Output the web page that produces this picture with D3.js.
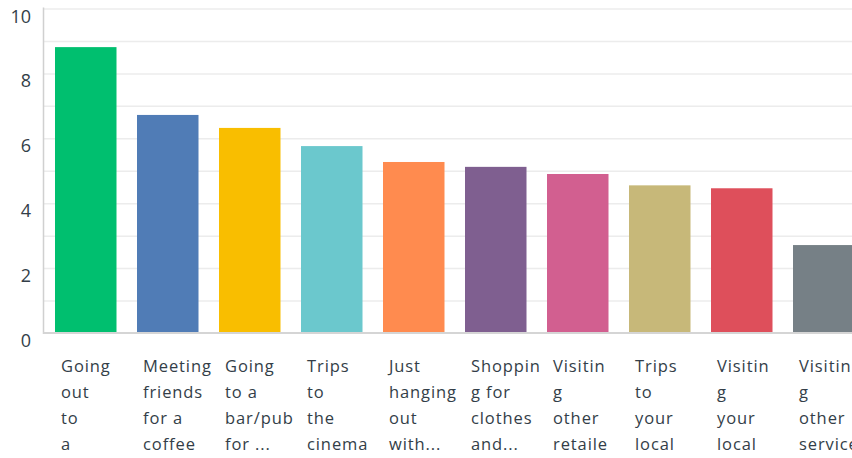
<!DOCTYPE html>
<html lang="en">
<head>
    <meta charset="UTF-8">
    <title>Activities</title>
    <script src="https://d3js.org/d3.v7.min.js"></script>
    <style>
        body {
            margin: 0;
            padding: 0;
            background-color: #ffffff;
            overflow: hidden;
        }
        svg {
            display: block;
            font-family: 'Open Sans', sans-serif;
        }
        .grid line {
            stroke: #ececec;
            stroke-width: 1.5;
        }
        .y-label {
            font-size: 18px;
            fill: #333e48;
        }
        .x-label {
            font-size: 16.5px;
            fill: #333e48;
            letter-spacing: 0.9px;
        }
    </style>
</head>
<body>
    <svg width="852" height="458"></svg>

    <script>
        const categories = [
            "Going out to a",
            "Meeting friends for a coffee",
            "Going to a bar/pub for ...",
            "Trips to the cinema",
            "Just hanging out with...",
            "Shopping for clothes and...",
            "Visiting other retailers",
            "Trips to your local",
            "Visiting your local",
            "Visiting other services"
        ];

        // wrapped tick labels as shown under each bar
        const tickLabels = [
            ["Going", "out", "to", "a"],
            ["Meeting", "friends", "for a", "coffee"],
            ["Going", "to a", "bar/pub", "for ..."],
            ["Trips", "to", "the", "cinema"],
            ["Just", "hanging", "out", "with..."],
            ["Shoppin", "g for", "clothes", "and..."],
            ["Visitin", "g", "other", "retaile"],
            ["Trips", "to", "your", "local"],
            ["Visitin", "g", "your", "local"],
            ["Visitin", "g", "other", "service"]
        ];

        const values = [8.81, 6.72, 6.32, 5.76, 5.27, 5.12, 4.90, 4.55, 4.46, 2.71];

        const colors = ["#00bf6f", "#507cb6", "#f9be00", "#6bc8cd", "#ff8b4f",
                        "#7f5f90", "#d25f90", "#c7b879", "#de4f5b", "#768086"];

        const yTicks = [0, 2, 4, 6, 8, 10];
        const gridTicks = [1, 2, 3, 4, 5, 6, 7, 8, 9, 10];

        const svg = d3.select("svg");
        const width = +svg.attr("width");

        const left = 43.5;
        const xScale = d3.scaleBand()
                         .domain(categories)
                         .range([44.75, 864.75])
                         .paddingInner(0.25)
                         .paddingOuter(0.125);

        const yScale = d3.scaleLinear()
                         .domain([0, 10])
                         .range([333, 8.5]);

        // gridlines
        svg.append("g")
           .attr("class", "grid")
           .attr("transform", "translate(" + left + ",0)")
           .call(d3.axisLeft(yScale).tickValues(gridTicks).tickSize(-(width - left)).tickFormat(""))
           .call(function(g) { g.select(".domain").remove(); });

        // y tick labels
        svg.selectAll(".y-label")
           .data(yTicks)
           .enter()
           .append("text")
           .attr("class", "y-label")
           .attr("x", 31)
           .attr("y", function(d) { return yScale(d) + 14; })
           .attr("text-anchor", "end")
           .text(function(d) { return d; });

        // bars
        svg.selectAll(".bar")
           .data(values)
           .enter()
           .append("rect")
           .attr("class", "bar")
           .attr("x", function(d, i) { return xScale(categories[i]); })
           .attr("y", function(d) { return yScale(d); })
           .attr("width", xScale.bandwidth())
           .attr("height", function(d) { return yScale(0) - yScale(d); })
           .attr("fill", function(d, i) { return colors[i]; });

        // axis lines
        svg.append("line")
           .attr("x1", left).attr("x2", left)
           .attr("y1", yScale(10) - 1).attr("y2", yScale(0) + 1)
           .attr("stroke", "#d0d0d0")
           .attr("stroke-width", 1.5);

        svg.append("line")
           .attr("x1", left).attr("x2", width)
           .attr("y1", yScale(0)).attr("y2", yScale(0))
           .attr("stroke", "#d5d5d5")
           .attr("stroke-width", 2);

        // x labels
        const xLabels = svg.selectAll(".x-label")
           .data(categories)
           .enter()
           .append("text")
           .attr("class", "x-label");

        xLabels.selectAll("tspan")
           .data(function(d, i) { return tickLabels[i].map(function(t) { return { text: t, cat: d }; }); })
           .enter()
           .append("tspan")
           .attr("x", function(d) { return xScale(d.cat) + 6; })
           .attr("y", function(d, j) { return 372 + j * 26; })
           .text(function(d) { return d.text; });
    </script>
</body>
</html>
